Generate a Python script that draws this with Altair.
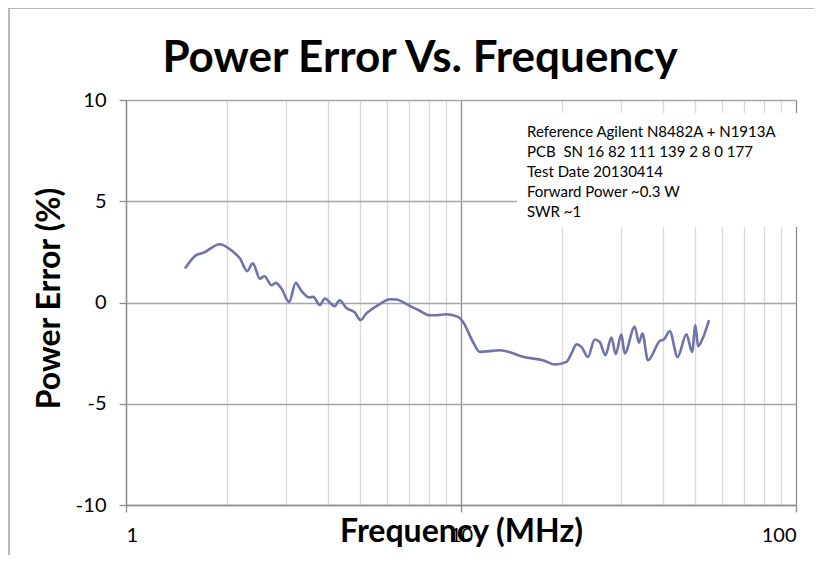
import altair as alt
import pandas as pd

# ---- data ----
freq_mhz = [1.50, 1.62, 1.70, 1.905, 2.09, 2.19, 2.30, 2.39, 2.51, 2.59, 2.72, 2.80, 2.91,
            3.07, 3.21, 3.34, 3.52, 3.62, 3.79, 3.92, 4.20, 4.34, 4.55, 4.82, 5.01, 5.22,
            5.72, 6.13, 6.41, 7.03, 7.53, 8.07, 8.45, 9.04, 9.80, 10.14, 10.86, 11.37,
            13.05, 15.67, 17.57, 19.05, 20.64, 21.36, 22.11, 22.88, 23.93, 25.06, 25.94,
            26.98, 28.12, 28.96, 30.11, 30.8, 33.0, 33.98, 34.8, 36.15, 39.2, 40.3, 42.0,
            44.3, 47.1, 48.95, 50.1, 51.0, 52.8, 55.0]
error_pct = [1.68, 2.34, 2.45, 2.88, 2.50, 2.17, 1.55, 1.93, 1.18, 1.30, 0.85, 0.97, 0.69,
             0.03, 0.97, 0.57, 0.25, 0.28, -0.13, 0.20, -0.18, 0.11, -0.27, -0.49, -0.87, -0.54,
             -0.08, 0.16, 0.15, -0.17, -0.41, -0.63, -0.63, -0.58, -0.71, -0.96, -1.95, -2.44,
             -2.36, -2.72, -2.85, -3.06, -2.93, -2.52, -2.07, -2.19, -2.69, -1.83, -1.95,
             -2.60, -1.73, -2.55, -1.57, -2.52, -1.20, -1.98, -1.53, -2.85, -1.90, -1.83, -1.42,
             -2.69, -1.57, -2.44, -1.12, -2.16, -1.73, -0.87]
x_ticks = [1, 2, 3, 4, 5, 6, 7, 8, 9, 10, 20, 30, 40, 50, 60, 70, 80, 90, 100]
x_major = [1, 10, 100]
y_ticks = [-10, -5, 0, 5, 10]
note_lines = ["Reference Agilent N8482A + N1913A",
              "PCB\u00a0 SN 16 82 111 139 2 8 0 177",
              "Test Date 20130414",
              "Forward Power ~0.3 W",
              "SWR ~1"]
title_text = "Power Error Vs. Frequency"
x_title = "Frequency (MHz)"
y_title = "Power Error (%)"

df = pd.DataFrame({"freq": freq_mhz, "err": error_pct})
one = pd.DataFrame({"k": [0]})

FONT = "Lato"
major_test = "indexof([" + ",".join(str(v) for v in x_major) + "], datum.value) >= 0"

x_axis = alt.Axis(
    values=x_ticks,
    labelExpr=major_test + " ? datum.label : ''",
    labelOverlap=False,
    labelFont=FONT, labelFontSize=20, labelColor="#000000", labelPadding=13,
    grid=True,
    gridColor={"condition": {"test": major_test, "value": "#8c8c8c"}, "value": "#d9d9d9"},
    gridWidth=1.3,
    tickColor="#8c8c8c", tickSize=7, tickWidth=1.3,
    tickOpacity={"condition": {"test": major_test, "value": 1}, "value": 0},
    domainColor="#8c8c8c", domainWidth=1.3,
    titleFont=FONT, titleFontSize=32, titleFontWeight="bold", titleColor="#000000",
    titleBaseline="alphabetic", titleY=36,
)
y_axis = alt.Axis(
    values=y_ticks,
    labelExpr="datum.value < 0 ? '-' + abs(datum.value) : '' + datum.value",
    labelFont=FONT, labelFontSize=20, labelColor="#000000", labelPadding=13,
    grid=True, gridColor="#a6a6a6", gridWidth=1.3,
    tickColor="#8c8c8c", tickSize=7, tickWidth=1.3,
    domainColor="#8c8c8c", domainWidth=1.3,
    titleFont=FONT, titleFontSize=32, titleFontWeight="bold", titleColor="#000000",
    titleAngle=-90, titleBaseline="alphabetic", titleAlign="center",
    titleX=-67, titleY=198,
)

line = alt.Chart(df).mark_line(
    color="#6f73aa", strokeWidth=2.6, interpolate="monotone"
).encode(
    x=alt.X("freq:Q", scale=alt.Scale(type="log", domain=[1, 100]), axis=x_axis, title=x_title),
    y=alt.Y("err:Q", scale=alt.Scale(domain=[-10, 10]), axis=y_axis, title=y_title),
)

note_bg = alt.Chart(one).mark_rect(color="white").encode(
    x=alt.value(391), x2=alt.value(676), y=alt.value(13), y2=alt.value(127)
)
note_txt = alt.Chart(one).mark_text(
    align="left", baseline="alphabetic", font=FONT, fontSize=15, color="#000000",
    lineBreak="\n", lineHeight=20
).encode(x=alt.value(401), y=alt.value(37), text=alt.value("\n".join(note_lines)))

title_mark = alt.Chart(one).mark_text(
    align="center", baseline="alphabetic", font=FONT, fontSize=44, fontWeight="bold",
    color="#000000"
).encode(x=alt.value(294), y=alt.value(-28), text=alt.value(title_text))

border_v = alt.Chart(one).mark_rule(color="#a0a0a0", strokeWidth=1.5).encode(
    x=alt.value(-117), y=alt.value(-92), y2=alt.value(455)
)
border_h = alt.Chart(one).mark_rule(color="#a0a0a0", strokeWidth=1.5).encode(
    x=alt.value(-117), x2=alt.value(688), y=alt.value(-92)
)

chart = alt.layer(line, note_bg, note_txt, title_mark, border_v, border_h).properties(
    width=670, height=405,
    autosize=alt.AutoSizeParams(type="none"),
    padding={"left": 118, "top": 92, "right": 18, "bottom": 50},
).configure_view(stroke="transparent").configure(background="white")

chart.save("out.html", embed_options={"renderer": "svg", "actions": False})
